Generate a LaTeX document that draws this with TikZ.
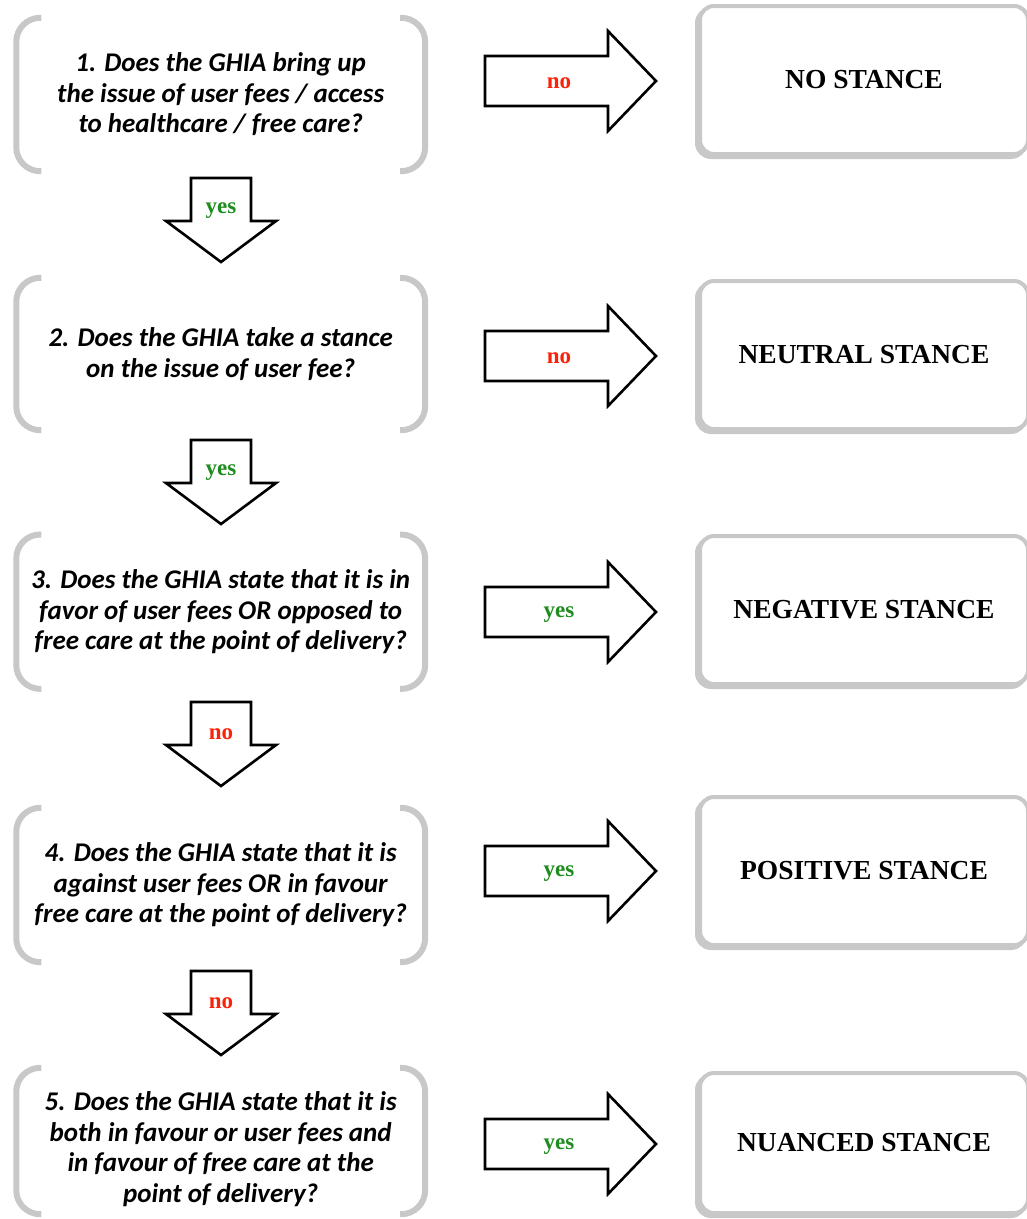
\documentclass[tikz,border=0pt]{standalone}
\usepackage{fontspec}
\setmainfont{Liberation Serif}
\newfontfamily\qfont{Carlito}
\usetikzlibrary{calc,shadows}

\definecolor{framegray}{RGB}{200,200,200}
\definecolor{nored}{RGB}{250,35,10}
\definecolor{yesgreen}{RGB}{30,140,30}

\tikzset{
  qframe/.style={minimum width=408.5pt, minimum height=#1, inner sep=0pt},
  bracket/.style={draw=framegray, line width=6pt, rounded corners=24pt},
  qtext/.style={font=\qfont\bfseries\itshape\fontsize{27}{30.5}\selectfont,
    align=center, inner sep=0pt},
  outcome/.style={draw=framegray, line width=4pt, rounded corners=14pt,
    fill=white, minimum width=328pt, minimum height=#1, inner sep=0pt,
    font=\bfseries\fontsize{27.5}{30}\selectfont,
    drop shadow={shadow xshift=-3pt, shadow yshift=-3pt, fill=framegray,
      draw=framegray, line width=4pt, opacity=1}},
  blk/.style={draw=black, line width=2.6pt, fill=white, line join=miter},
  lbl/.style={font=\bfseries\fontsize{23}{25}\selectfont, inner sep=0pt},
  nolbl/.style={lbl, text=nored},
  yeslbl/.style={lbl, text=yesgreen},
  rarrow/.pic={\draw[blk] (0,-25) -- (123,-25) -- (123,-50) -- (171,0)
      -- (123,50) -- (123,25) -- (0,25) -- cycle;},
  darrow/.pic={\draw[blk] (-30,0) -- (30,0) -- (30,43) -- (55,43) -- (0,84)
      -- (-55,43) -- (-30,43) -- cycle;}
}

% gray rounded brackets on both sides of a question frame
\newcommand\qbrackets[1]{%
  \draw[bracket] ($(#1.north west)+(25,0)$) -- (#1.north west)
    -- (#1.south west) -- ($(#1.south west)+(25,0)$);
  \draw[bracket] ($(#1.north east)+(-25,0)$) -- (#1.north east)
    -- (#1.south east) -- ($(#1.south east)+(-25,0)$);}

\begin{document}
\begin{tikzpicture}[x=1pt, y=-1pt]
\useasboundingbox[fill=white] (0,0) rectangle (1027,1219);

% question frames
\node[qframe=153pt] (q1) at (220.7,94.5) {};
\node[qframe=152pt] (q2) at (220.7,354) {};
\node[qframe=154pt] (q3) at (220.7,611.7) {};
\node[qframe=154pt] (q4) at (220.7,885) {};
\node[qframe=146pt] (q5) at (220.7,1141) {};
\foreach \q in {q1,q2,q3,q4,q5} {\qbrackets{\q}}

% question texts
\node[qtext] (q1t) at (q1) {1. Does the GHIA bring up\\the issue of user fees / access\\to healthcare / free care?};
\node[qtext] (q2t) at (q2) {2. Does the GHIA take a stance\\on the issue of user fee?};
\node[qtext] (q3t) at (q3) {3. Does the GHIA state that it is in\\favor of user fees OR opposed to\\free care at the point of delivery?};
\node[qtext] (q4t) at (q4) {4. Does the GHIA state that it is\\against user fees OR in favour\\free care at the point of delivery?};
\node[qtext] (q5t) at ($(q5)+(0,8)$) {5. Does the GHIA state that it is\\both in favour or user fees and\\in favour of free care at the\\point of delivery?};

% outcome boxes
\node[outcome=148pt] (r1) at (864,80) {NO STANCE};
\node[outcome=148pt] (r2) at (864,355) {NEUTRAL STANCE};
\node[outcome=148pt] (r3) at (864,610) {NEGATIVE STANCE};
\node[outcome=148pt] (r4) at (864,871) {POSITIVE STANCE};
\node[outcome=140pt] (r5) at (864,1143) {NUANCED STANCE};

% block arrows to the outcomes
\coordinate (ra1) at (485,81);
\coordinate (ra2) at (485,356);
\coordinate (ra3) at (485,612);
\coordinate (ra4) at (485,871);
\coordinate (ra5) at (485,1144);
\foreach \a in {ra1,ra2,ra3,ra4,ra5} {\pic at (\a) {rarrow};}
\node[nolbl]  (ra1l) at ($(ra1)+(74,2)$) {no};
\node[nolbl]  (ra2l) at ($(ra2)+(74,2)$) {no};
\node[yeslbl] (ra3l) at ($(ra3)+(74,3)$) {yes};
\node[yeslbl] (ra4l) at ($(ra4)+(74,3)$) {yes};
\node[yeslbl] (ra5l) at ($(ra5)+(74,3)$) {yes};

% block arrows between questions
\coordinate (da1) at (221,178);
\coordinate (da2) at (221,440);
\coordinate (da3) at (221,702);
\coordinate (da4) at (221,971);
\foreach \a in {da1,da2,da3,da4} {\pic at (\a) {darrow};}
\node[yeslbl] (da1l) at ($(da1)+(0,33)$) {yes};
\node[yeslbl] (da2l) at ($(da2)+(0,33)$) {yes};
\node[nolbl]  (da3l) at ($(da3)+(0,32)$) {no};
\node[nolbl]  (da4l) at ($(da4)+(0,32)$) {no};
\end{tikzpicture}
\end{document}
